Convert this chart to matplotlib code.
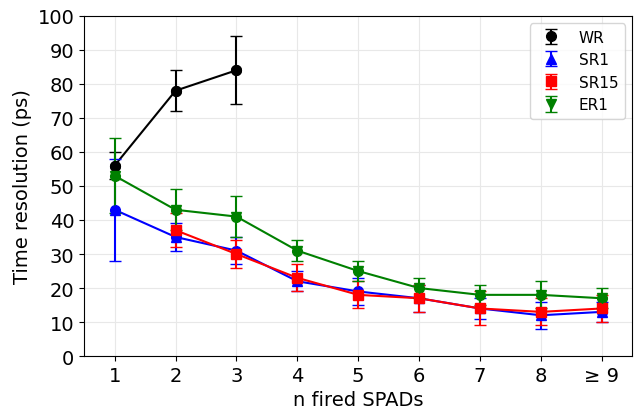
import matplotlib
matplotlib.use('Agg')
import matplotlib.pyplot as plt

x_labels = ['1', '2', '3', '4', '5', '6', '7', '8', '≥ 9']
x_all = [1, 2, 3, 4, 5, 6, 7, 8, 9]

wr_x = [1, 2, 3]
wr_y = [56, 78, 84]
wr_err = [4, 6, 10]

sr1_x = x_all
sr1_y = [43, 35, 31, 22, 19, 17, 14, 12, 13]
sr1_err = [15, 4, 4, 3, 4, 4, 3, 4, 3]

sr15_x = [2, 3, 4, 5, 6, 7, 8, 9]
sr15_y = [37, 30, 23, 18, 17, 14, 13, 14]
sr15_err = [5, 4, 4, 4, 4, 5, 4, 4]

er1_x = x_all
er1_y = [53, 43, 41, 31, 25, 20, 18, 18, 17]
er1_err = [11, 6, 6, 3, 3, 3, 3, 4, 3]

fig = plt.figure(figsize=(6.38, 4.10), dpi=100)
ax = fig.add_axes([0.132, 0.129, 0.859, 0.83])

series = [
    (wr_x, wr_y, wr_err, 'black', 'o', 'WR'),
    (sr1_x, sr1_y, sr1_err, 'blue', '^', 'SR1'),
    (sr15_x, sr15_y, sr15_err, 'red', 's', 'SR15'),
    (er1_x, er1_y, er1_err, 'green', 'v', 'ER1'),
]
for xs, ys, es, c, m, lab in series:
    ax.errorbar(xs, ys, yerr=es, fmt=m, color=c, capsize=4, markersize=7, label=lab)
    ax.plot(xs, ys, '-o', color=c, markersize=7 if m != 's' else 0, linewidth=1.5)

ax.set_xlim(0.5, 9.5)
ax.set_ylim(0, 100)
ax.set_xticks(x_all)
ax.set_xticklabels(x_labels)
ax.set_yticks(range(0, 101, 10))
ax.tick_params(labelsize=14)
ax.grid(True, color='#e8e8e8')
ax.set_axisbelow(True)
ax.set_xlabel('n fired SPADs', fontsize=14)
ax.set_ylabel('Time resolution (ps)', fontsize=14)
ax.legend(loc='upper right', fontsize=11)

fig.savefig('out.png', dpi=100)
